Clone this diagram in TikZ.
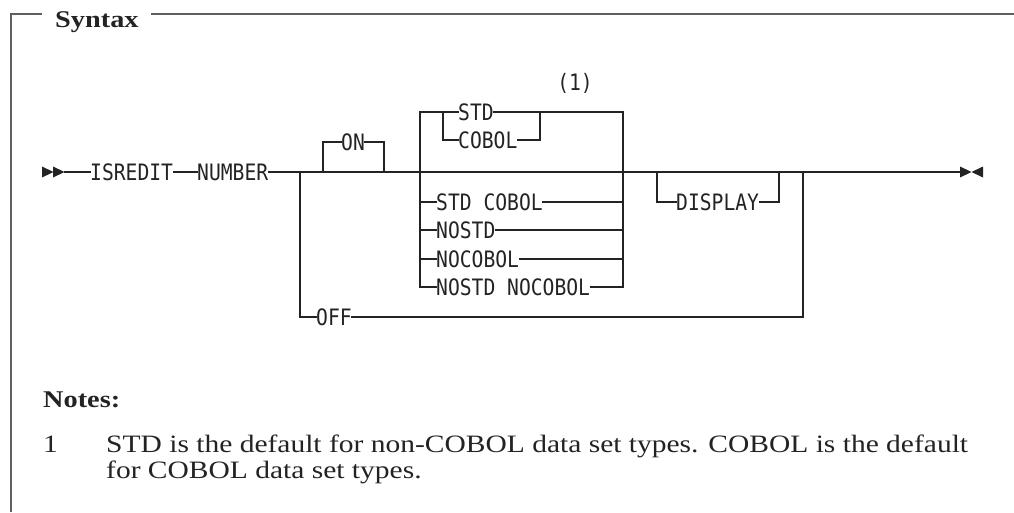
\documentclass[tikz,border=0pt]{standalone}
\usepackage{fontspec}
\usetikzlibrary{positioning,calc}
\newfontfamily\railfont[FakeStretch=0.87]{DejaVu Sans Mono}
\newfontfamily\bookfont[FakeStretch=1.18]{Liberation Serif}
\definecolor{ink}{RGB}{35,35,35}
\definecolor{rim}{RGB}{95,95,95}
\tikzset{
  kw/.style={font=\railfont\fontsize{22.6}{24}\selectfont,text=ink,inner sep=0pt,
    text height=16.5pt,text depth=0pt,anchor=west},
  rail/.style={draw=ink,line width=1.5pt,line cap=rect},
  boxline/.style={draw=rim,line width=1.8pt},
  hdr/.style={font=\bookfont\bfseries\fontsize{24}{28}\selectfont,text=ink,inner sep=0pt,anchor=base west},
  note/.style={font=\bookfont\fontsize{25}{26}\selectfont,text=ink,inner sep=0pt,
    text height=16pt,text depth=4pt,anchor=base west},
  tip/.style={fill=ink},
}
\begin{document}
\begin{tikzpicture}[x=1pt,y=-1pt]
  \useasboundingbox (0,0) rectangle (1014,512);
  % frame
  \node[hdr] (syntax) at (55,27) {Syntax};
  \draw[boxline] (11,512) -- (11,14) -- (42,14) (151,14) -- (1014,14);
  % main rail
  \coordinate (go) at (65,172);
  \coordinate (stop) at (960,172);
  \foreach \x in {42,53} \fill[tip] (\x,166.5) -- ++(11.5,5.5) -- ++(-11.5,5.5) -- cycle;
  \fill[tip] (stop) ++(0,-5.5) -- ++(11.5,5.5) -- ++(-11.5,5.5) -- cycle;
  \fill[tip] (stop) ++(23,-5.5) -- ++(-11.5,5.5) -- ++(11.5,5.5) -- cycle;
  \node[kw] (isredit) at (90,172) {ISREDIT};
  \node[kw] (number) at (197,172) {NUMBER};
  \draw[rail] (go) -- (isredit.west) (isredit.east) -- (number.west) (number.east) -- (stop);
  \foreach \n/\x in {off1/300,on1/323,on2/384,box1/420,box2/623,dsp1/657,dsp2/779,off2/803}
    \coordinate (\n) at (\x,172);
  % ON
  \node[kw] (on) at (341,142) {ON};
  \draw[rail] (on1) |- (on.west) (on.east) -| (on2);
  % STD / COBOL block
  \node[kw,anchor=base] (ref1) at (575,90) {(1)};
  \node[kw] (std) at (458,112) {STD};
  \node[kw] (cobol) at (458,140) {COBOL};
  \coordinate (in1) at (443,112);
  \coordinate (in2) at (540,112);
  \draw[rail] (box1) |- (std.west) (std.east) -| (box2);
  \draw[rail] (in1) |- (cobol.west) (cobol.east) -| (in2);
  \foreach \n/\t/\y in {stdcobol/STD COBOL/202,nostd/NOSTD/230,nocobol/NOCOBOL/259,nostdnocobol/NOSTD NOCOBOL/287}
    \node[kw] (\n) at (436,\y) {\t};
  \foreach \n in {stdcobol,nostd,nocobol}
    \draw[rail] (box1 |- \n.west) -- (\n.west) (\n.east) -- (box2 |- \n.east);
  \draw[rail] (box1) |- (nostdnocobol.west) (nostdnocobol.east) -| (box2);
  % DISPLAY
  \node[kw] (display) at (676,202) {DISPLAY};
  \draw[rail] (dsp1) |- (display.west) (display.east) -| (dsp2);
  % OFF
  \node[kw] (off) at (316,317) {OFF};
  \draw[rail] (off1) |- (off.west) (off.east) -| (off2);
  % notes
  \node[hdr] (notes) at (43,407) {Notes:};
  \node[note] (num1) at (43,452) {1};
  \node[note] (txt1) at (106,452) {STD is the default for non-COBOL data set types. COBOL is the default};
  \node[note] (txt2) at (106,478) {for COBOL data set types.};
\end{tikzpicture}
\end{document}
